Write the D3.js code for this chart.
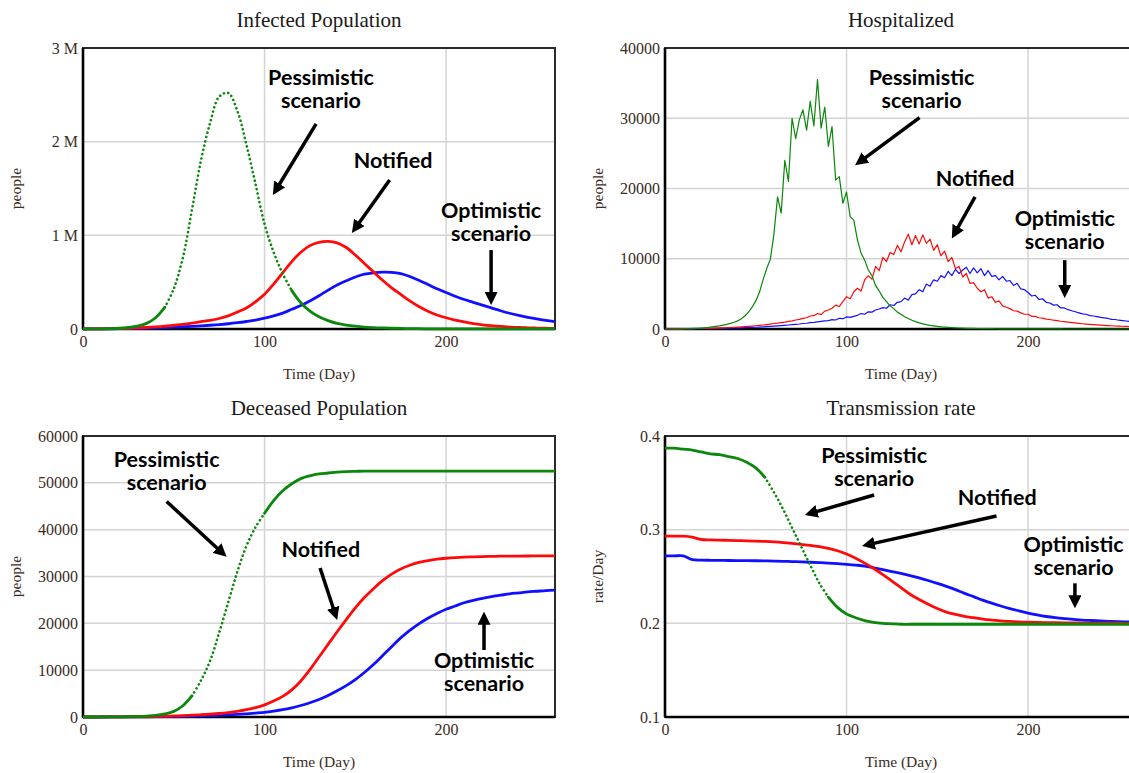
<!DOCTYPE html>
<html>
<head>
<meta charset="utf-8">
<title>Epidemic scenarios</title>
<script src="https://d3js.org/d3.v7.min.js"></script>
<style>
  body { margin: 0; background: #fff; }
  svg { display: block; }
  .title { font-family: "Liberation Serif", "DejaVu Serif", serif; font-size: 21px; fill: #1a1a1a; }
  .tick text { font-family: "Liberation Serif", serif; font-size: 16px; fill: #3b2c24; }
  .axlabel { font-family: "Liberation Serif", serif; font-size: 15.5px; fill: #3b2c24; }
  .note { font-family: Lato, "Open Sans", sans-serif; font-weight: bold; font-size: 21.5px; fill: #000; }
</style>
</head>
<body>
<svg width="1129" height="773"></svg>
<script>
// time grid (days)
var days5 = [0,5,10,15,20,25,30,35,40,45,50,55,60,65,70,75,80,85,90,95,100,105,110,115,120,125,130,135,140,145,150,155,160,165,170,175,180,185,190,195,200,205,210,215,220,225,230,235,240,245,250,255,260];
var days2 = [0,2,4,6,8,10,12,14,16,18,20,22,24,26,28,30,32,34,36,38,40,42,44,46,48,50,52,54,56,58,60,62,64,66,68,70,72,74,76,78,80,82,84,86,88,90,92,94,96,98,100,102,104,106,108,110,112,114,116,118,120,122,124,126,128,130,132,134,136,138,140,142,144,146,148,150,152,154,156,158,160,162,164,166,168,170,172,174,176,178,180,182,184,186,188,190,192,194,196,198,200,202,204,206,208,210,212,214,216,218,220,222,224,226,228,230,232,234,236,238,240,242,244,246,248,250,252,254,256,258,260];
var xTicks = [0, 100, 200];

// Infected Population (millions of people), sampled every 5 days
var infPess = [0,0.001,0.002,0.004,0.008,0.016,0.03,0.06,0.12,0.23,0.43,0.76,1.27,1.8,2.2,2.48,2.52,2.33,1.97,1.55,1.12,0.82,0.59,0.41,0.28,0.19,0.13,0.09,0.06,0.042,0.03,0.021,0.015,0.011,0.008,0.006,0.004,0.003,0.002,0.002,0.001,0.001,0.001,0.001,0.001,0.001,0.001,0.001,0.001,0.001,0.001,0.001,0.001];
var infNotif = [0,0.001,0.002,0.003,0.005,0.008,0.011,0.016,0.022,0.03,0.04,0.05,0.063,0.078,0.092,0.112,0.14,0.18,0.225,0.29,0.37,0.48,0.6,0.72,0.82,0.89,0.925,0.935,0.92,0.87,0.79,0.7,0.61,0.52,0.44,0.37,0.3,0.24,0.19,0.15,0.12,0.095,0.075,0.058,0.045,0.035,0.027,0.021,0.016,0.013,0.01,0.008,0.007];
var infOpt = [0,0.0005,0.001,0.002,0.003,0.005,0.007,0.009,0.012,0.016,0.02,0.024,0.029,0.034,0.04,0.047,0.056,0.067,0.08,0.095,0.115,0.14,0.17,0.21,0.25,0.3,0.355,0.415,0.47,0.515,0.555,0.585,0.6,0.607,0.605,0.59,0.56,0.52,0.475,0.43,0.39,0.35,0.315,0.285,0.255,0.225,0.195,0.168,0.145,0.125,0.108,0.092,0.078];

// Hospitalized (thousands of people), sampled every 2 days
var hospPess = [0,0,0,0.01,0.02,0.03,0.04,0.06,0.08,0.1,
  0.13,0.17,0.22,0.29,0.37,0.45,0.55,0.66,0.8,0.96,
  1.15,1.45,1.85,2.4,3.1,4.0,5.2,7.0,8.6,9.9,
  13.5,18.8,16.5,24.0,21.0,30.0,27.1,29.8,31.2,28.3,
  32.4,28.9,35.5,28.6,31.6,26.0,28.8,21.2,21.7,17.9,
  19.5,16.0,15.5,12.7,10.8,9.8,8.4,7.6,6.2,5.4,
  4.5,3.9,3.3,2.9,2.4,2.1,1.75,1.5,1.25,1.05,
  0.88,0.74,0.62,0.52,0.44,0.37,0.31,0.26,0.22,0.19,
  0.16,0.14,0.12,0.1,0.09,0.08,0.07,0.06,0.05,0.045,
  0.04,0.035,0.03,0.027,0.024,0.02,0.018,0.016,0.014,0.012,
  0.01,0.01,0.01,0.01,0.01,0.01,0.01,0.01,0.01,0.01,
  0,0,0,0,0,0,0,0,0,0,
  0,0,0,0,0,0,0,0,0,0,
  0];
var hospNotif = [0,0,0.01,0.01,0.02,0.03,0.04,0.05,0.06,0.07,
  0.08,0.09,0.1,0.12,0.13,0.15,0.17,0.19,0.21,0.24,
  0.27,0.3,0.33,0.37,0.41,0.46,0.51,0.57,0.63,0.7,
  0.78,0.84,0.92,0.98,1.08,1.16,1.28,1.36,1.52,1.6,
  1.85,1.9,2.2,2.05,2.55,2.7,2.95,3.4,3.2,3.9,
  4.6,4.3,5.3,5.8,5.4,7.0,7.6,7.1,8.9,8.3,
  10.2,9.6,10.9,10.6,11.9,11.0,12.4,13.5,12.0,13.3,
  12.1,13.4,12.2,12.8,11.2,12.0,10.4,11.1,9.6,10.2,
  8.6,8.9,7.4,7.9,6.5,6.6,5.8,5.3,5.6,4.4,
  4.6,3.8,4.0,3.3,3.1,2.9,2.6,2.55,2.3,2.1,
  2.1,1.8,1.8,1.6,1.55,1.4,1.35,1.25,1.2,1.1,
  1.05,0.98,0.92,0.86,0.8,0.75,0.7,0.66,0.62,0.58,
  0.55,0.52,0.49,0.46,0.43,0.41,0.39,0.37,0.35,0.33,
  0.31];
var hospOpt = [0,0,0,0.01,0.01,0.02,0.02,0.03,0.03,0.04,
  0.05,0.05,0.06,0.07,0.08,0.09,0.1,0.11,0.12,0.14,
  0.15,0.17,0.19,0.21,0.23,0.25,0.28,0.31,0.34,0.37,
  0.4,0.44,0.48,0.52,0.57,0.61,0.67,0.71,0.78,0.82,
  0.9,0.95,1.02,1.08,1.15,1.2,1.33,1.28,1.52,1.47,
  1.72,1.65,1.8,1.95,2.2,2.1,2.45,2.4,2.7,2.85,
  3.05,2.95,3.45,3.35,3.8,3.9,4.4,4.1,4.9,5.0,
  5.6,5.3,6.4,6.1,7.0,6.8,7.6,7.3,8.2,7.6,
  8.5,7.9,8.4,8.8,7.9,8.7,8.0,8.6,7.6,8.3,
  7.5,7.6,7.0,7.5,6.8,6.9,6.2,6.5,5.7,5.6,
  5.2,4.7,4.8,4.2,4.3,3.8,3.7,3.4,3.45,3.0,
  3.0,2.75,2.6,2.45,2.3,2.15,2.1,1.9,1.85,1.75,
  1.65,1.58,1.5,1.38,1.35,1.25,1.2,1.14,1.08,1.04,
  1.0];

// Deceased Population (thousands of people), every 5 days
var decPess = [0,0,0.01,0.02,0.04,0.07,0.12,0.2,0.35,0.65,1.2,2.4,4.5,7.8,12,18,24.5,31,36.5,40.5,43.5,46.2,48.3,49.8,50.9,51.5,51.9,52.1,52.3,52.4,52.45,52.5,52.5,52.5,52.5,52.5,52.5,52.5,52.5,52.5,52.5,52.5,52.5,52.5,52.5,52.5,52.5,52.5,52.5,52.5,52.5,52.5,52.5];
var decNotif = [0,0,0.01,0.02,0.03,0.05,0.07,0.1,0.13,0.17,0.22,0.3,0.38,0.48,0.6,0.75,0.95,1.2,1.55,2.0,2.6,3.4,4.4,5.8,7.7,10.1,12.8,15.5,18.2,20.8,23.3,25.5,27.4,29.1,30.5,31.6,32.4,33,33.4,33.7,33.9,34.05,34.15,34.2,34.25,34.3,34.33,34.35,34.37,34.38,34.4,34.4,34.42];
var decOpt = [0,0,0,0.01,0.02,0.03,0.04,0.05,0.07,0.09,0.12,0.15,0.19,0.24,0.3,0.37,0.45,0.55,0.68,0.83,1.0,1.25,1.55,1.95,2.45,3.05,3.75,4.6,5.6,6.7,8.0,9.5,11.2,13.1,15.0,16.9,18.5,19.9,21.1,22.1,23,23.7,24.4,24.9,25.35,25.7,26,26.3,26.5,26.7,26.85,27,27.1];

// Transmission rate (rate/Day), every 5 days
var trPess = [0.387,0.387,0.386,0.385,0.383,0.381,0.38,0.378,0.376,0.372,0.366,0.356,0.34,0.322,0.302,0.282,0.262,0.243,0.228,0.217,0.21,0.206,0.203,0.201,0.2,0.1995,0.199,0.199,0.199,0.199,0.199,0.199,0.199,0.199,0.199,0.199,0.199,0.199,0.199,0.199,0.199,0.199,0.199,0.199,0.199,0.199,0.199,0.199,0.199,0.199,0.199,0.199,0.199];
var trNotif = [0.293,0.293,0.293,0.292,0.2895,0.289,0.2888,0.2886,0.2884,0.2881,0.2878,0.2874,0.2869,0.2862,0.2853,0.2843,0.2832,0.2818,0.28,0.2775,0.274,0.2695,0.2643,0.2585,0.252,0.245,0.238,0.231,0.2255,0.2205,0.2158,0.212,0.2095,0.2075,0.206,0.2045,0.2035,0.2027,0.202,0.2015,0.2012,0.201,0.2008,0.2006,0.2005,0.2004,0.2003,0.2002,0.2002,0.2001,0.2001,0.2,0.2];
var trOpt = [0.272,0.272,0.272,0.268,0.2675,0.2673,0.2672,0.2671,0.267,0.2669,0.2668,0.2667,0.2665,0.2662,0.2659,0.2656,0.2652,0.2648,0.2643,0.2637,0.263,0.2622,0.2612,0.2593,0.2573,0.2553,0.2533,0.251,0.2485,0.2457,0.2427,0.2395,0.236,0.232,0.2285,0.2248,0.2215,0.2185,0.2158,0.2133,0.211,0.209,0.2073,0.206,0.205,0.2042,0.2035,0.203,0.2025,0.2021,0.2018,0.2015,0.2012];

var colOpt = "#1010ff", colNotif = "#ff0a0a", colPess = "#0b870b";

var W = 472, H = 281;
var svg = d3.select("svg");

svg.append("defs").append("marker")
  .attr("id", "head").attr("viewBox", "0 0 13 13")
  .attr("refX", 8).attr("refY", 6.5)
  .attr("markerWidth", 13).attr("markerHeight", 13)
  .attr("markerUnits", "userSpaceOnUse").attr("orient", "auto")
  .append("path").attr("d", "M0,0L13,6.5L0,13Z").attr("fill", "#000");

// dotted: day range (on the sampling grid) where the pessimistic run is drawn as dots
var panels = [
  { left: 83, top: 48, title: "Infected Population", yLabel: "people",
    domain: [0, 3], ticks: [0, 1, 2, 3], fmt: function(d){ return d ? d + " M" : "0"; },
    days: days5, series: [infOpt, infNotif, infPess], width: 2.8, smooth: true, dotted: [45, 115],
    notes: [
      { lines: ["Pessimistic", "scenario"], at: [131.1, 2.605], from: [128.4, 2.19], to: [104.6, 1.43] },
      { lines: ["Notified"], at: [170.8, 1.72], from: [168.9, 1.59], to: [148.1, 1.025] },
      { lines: ["Optimistic", "scenario"], at: [224.8, 1.185], from: [224.8, 0.843], to: [224.8, 0.256] }
    ] },
  { left: 665, top: 48, title: "Hospitalized", yLabel: "people",
    domain: [0, 40], ticks: [0, 10, 20, 30, 40], fmt: function(d){ return String(d * 1000); },
    days: days2, series: [hospOpt, hospNotif, hospPess], width: 1.2, smooth: false, dotted: null,
    notes: [
      { lines: ["Pessimistic", "scenario"], at: [141.3, 34.7], from: [140.2, 30.1], to: [104.7, 23.3] },
      { lines: ["Notified"], at: [170.8, 20.4], from: [170.8, 18.8], to: [158, 12.9] },
      { lines: ["Optimistic", "scenario"], at: [220.2, 14.6], from: [220.2, 9.8], to: [220.2, 4.4] }
    ] },
  { left: 83, top: 436, title: "Deceased Population", yLabel: "people",
    domain: [0, 60], ticks: [0, 10, 20, 30, 40, 50, 60], fmt: function(d){ return String(d * 1000); },
    days: days5, series: [decOpt, decNotif, decPess], width: 2.8, smooth: true, dotted: [60, 100],
    notes: [
      { lines: ["Pessimistic", "scenario"], at: [46.1, 53.3], from: [46.1, 46], to: [79.1, 34.2] },
      { lines: ["Notified"], at: [131, 34.2], from: [130.6, 31.8], to: [140, 20.7] },
      { lines: ["Optimistic", "scenario"], at: [220.9, 10.4], from: [220.9, 14.3], to: [220.9, 22.5] }
    ] },
  { left: 665, top: 436, title: "Transmission rate", yLabel: "rate/Day",
    domain: [0.1, 0.4], ticks: [0.1, 0.2, 0.3, 0.4], fmt: function(d){ return String(d); },
    days: days5, series: [trOpt, trNotif, trPess], width: 2.8, smooth: true, dotted: [55, 90],
    notes: [
      { lines: ["Pessimistic", "scenario"], at: [115.2, 0.3715], from: [115.2, 0.337], to: [77, 0.3157] },
      { lines: ["Notified"], at: [183, 0.3263], from: [182.6, 0.3146], to: [108.5, 0.2826] },
      { lines: ["Optimistic", "scenario"], at: [225.1, 0.2765], from: [225.8, 0.2427], to: [225.8, 0.216] }
    ] }
];

var colors = [colOpt, colNotif, colPess];

panels.forEach(function(p, pi) {
  var g = svg.append("g").attr("transform", "translate(" + p.left + "," + p.top + ")");
  var x = d3.scaleLinear().domain([0, 260]).range([0, W]);
  var y = d3.scaleLinear().domain(p.domain).range([H, 0]);

  // grid
  g.append("g").selectAll("line").data(xTicks.slice(1)).join("line")
    .attr("x1", function(d){ return x(d); }).attr("x2", function(d){ return x(d); })
    .attr("y1", 0).attr("y2", H)
    .attr("stroke", "#d4d4d4").attr("stroke-width", 1.5);
  g.append("g").selectAll("line").data(p.ticks.slice(1, -1)).join("line")
    .attr("x1", 0).attr("x2", W)
    .attr("y1", function(d){ return y(d); }).attr("y2", function(d){ return y(d); })
    .attr("stroke", "#d4d4d4").attr("stroke-width", 1.5);

  // frame
  g.append("rect").attr("width", W).attr("height", H)
    .attr("fill", "none").attr("stroke", "#2a2a2a").attr("stroke-width", 2);
  g.append("line").attr("x1", 0).attr("x2", 0).attr("y1", 0).attr("y2", H)
    .attr("stroke", "#000").attr("stroke-width", 2.6);
  g.append("line").attr("x1", 0).attr("x2", W).attr("y1", H).attr("y2", H)
    .attr("stroke", "#000").attr("stroke-width", 2.6);

  // axes
  var ya = g.append("g").call(d3.axisLeft(y).tickValues(p.ticks).tickFormat(p.fmt).tickSize(0).tickPadding(5));
  ya.select(".domain").remove();
  var xa = g.append("g").attr("transform", "translate(0," + H + ")")
    .call(d3.axisBottom(x).tickValues(xTicks).tickFormat(d3.format("d")).tickSize(0).tickPadding(7));
  xa.select(".domain").remove();

  // lines
  var clipId = "clip" + pi;
  g.append("clipPath").attr("id", clipId).append("rect")
    .attr("x", 0).attr("y", -3).attr("width", W).attr("height", H + 5);
  var lines = g.append("g").attr("clip-path", "url(#" + clipId + ")");
  var line = d3.line()
    .x(function(d){ return x(d[0]); })
    .y(function(d){ return y(d[1]); })
    .curve(p.smooth ? d3.curveCatmullRom : d3.curveLinear);

  p.series.forEach(function(vals, si) {
    var pts = p.days.map(function(d, i){ return [d, vals[i]]; });
    var parts = [pts];
    if (si === 2 && p.dotted) {
      var a = p.dotted[0], b = p.dotted[1];
      parts = [
        pts.filter(function(d){ return d[0] <= a; }),
        pts.filter(function(d){ return d[0] >= a && d[0] <= b; }),
        pts.filter(function(d){ return d[0] >= b; })
      ];
    }
    parts.forEach(function(part, k) {
      var dots = parts.length === 3 && k === 1;
      lines.append("path").datum(part)
        .attr("d", line)
        .attr("fill", "none")
        .attr("stroke", colors[si])
        .attr("stroke-width", dots ? 2.6 : p.width)
        .attr("stroke-linecap", "round")
        .attr("stroke-linejoin", "round")
        .attr("stroke-dasharray", dots ? "0.1,4.3" : null);
    });
  });

  // titles
  g.append("text").attr("class", "title").attr("text-anchor", "middle")
    .attr("x", W / 2).attr("y", -21).text(p.title);
  g.append("text").attr("class", "axlabel").attr("text-anchor", "middle")
    .attr("x", W / 2).attr("y", H + 50).text("Time (Day)");
  g.append("text").attr("class", "axlabel").attr("text-anchor", "middle")
    .attr("transform", "rotate(-90)")
    .attr("x", -H / 2).attr("y", -67).attr("dy", "0.35em").text(p.yLabel);

  // annotations
  p.notes.forEach(function(n) {
    var t = g.append("text").attr("class", "note").attr("text-anchor", "middle")
      .attr("x", x(n.at[0])).attr("y", y(n.at[1]));
    n.lines.forEach(function(s, k) {
      t.append("tspan").attr("x", x(n.at[0])).attr("dy", k ? 23 : 0).text(s);
    });
    var x1 = x(n.from[0]), y1 = y(n.from[1]), x2 = x(n.to[0]), y2 = y(n.to[1]);
    var len = Math.hypot(x2 - x1, y2 - y1), back = 5;
    g.append("line")
      .attr("x1", x1).attr("y1", y1)
      .attr("x2", x2 - (x2 - x1) / len * back).attr("y2", y2 - (y2 - y1) / len * back)
      .attr("stroke", "#000").attr("stroke-width", 3.5)
      .attr("marker-end", "url(#head)");
  });
});
</script>
</body>
</html>
